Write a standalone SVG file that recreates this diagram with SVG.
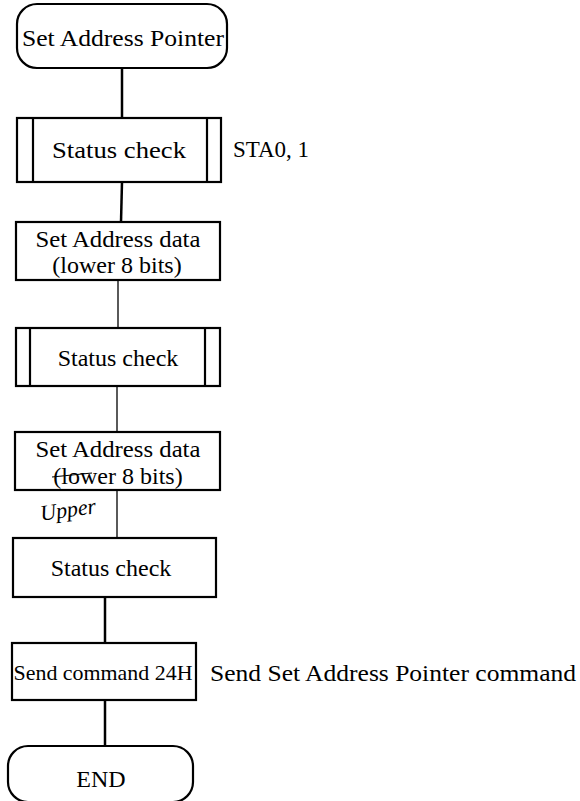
<svg xmlns="http://www.w3.org/2000/svg" width="580" height="801" viewBox="0 0 580 801">
<style>
.b{fill:#fff;stroke:#000;stroke-width:2.2}
.t{font-family:"Liberation Serif","Times New Roman",serif;font-size:24px;fill:#000}
.c{text-anchor:middle}
.l{stroke:#000;fill:none}
</style>
<rect width="580" height="801" fill="#fff"/>
<g id="connectors">
<line class="l" x1="122" y1="68" x2="122" y2="118" stroke-width="2.5"/>
<line class="l" x1="122" y1="182" x2="121" y2="222" stroke-width="2.5"/>
<line class="l" x1="118" y1="280" x2="118" y2="328" stroke-width="1.3"/>
<line class="l" x1="117" y1="386" x2="117" y2="432" stroke-width="1.3"/>
<line class="l" x1="117" y1="490" x2="117" y2="538" stroke-width="1.3"/>
<line class="l" x1="105" y1="597" x2="105" y2="643" stroke-width="2.5"/>
<line class="l" x1="105" y1="700" x2="105" y2="746" stroke-width="2.5"/>
</g>
<g id="start">
<rect class="b" x="17" y="4" width="210" height="64" rx="20" ry="20"/>
<text class="t c" x="123" y="46" textLength="202" lengthAdjust="spacingAndGlyphs">Set Address Pointer</text>
</g>
<g id="status1">
<rect class="b" x="17" y="118" width="204" height="64"/>
<line class="l" x1="33" y1="118" x2="33" y2="182" stroke-width="2.2"/>
<line class="l" x1="207" y1="118" x2="207" y2="182" stroke-width="2.2"/>
<text class="t c" x="119" y="158" textLength="134" lengthAdjust="spacingAndGlyphs">Status check</text>
<text class="t" x="233" y="157" textLength="76" lengthAdjust="spacingAndGlyphs">STA0, 1</text>
</g>
<g id="setaddr1">
<rect class="b" x="16" y="222" width="204" height="58"/>
<text class="t c" x="118" y="247" textLength="165" lengthAdjust="spacingAndGlyphs">Set Address data</text>
<text class="t c" x="117" y="273">(lower 8 bits)</text>
</g>
<g id="status2">
<rect class="b" x="16" y="328" width="204" height="58"/>
<line class="l" x1="30" y1="328" x2="30" y2="386" stroke-width="2.2"/>
<line class="l" x1="205" y1="328" x2="205" y2="386" stroke-width="2.2"/>
<text class="t c" x="118" y="366">Status check</text>
</g>
<g id="setaddr2">
<rect class="b" x="15" y="432" width="205" height="58"/>
<text class="t c" x="118" y="457" textLength="165" lengthAdjust="spacingAndGlyphs">Set Address data</text>
<text class="t c" x="118" y="484">(lower 8 bits)</text>
<line class="l" x1="52" y1="477" x2="92" y2="473" stroke-width="1.2"/>
<text x="40" y="516" font-family="'Liberation Serif',serif" font-style="italic" font-size="22" transform="rotate(-8 75 510)" fill="#000">Upper</text>
</g>
<g id="status3">
<rect class="b" x="13" y="538" width="203" height="59"/>
<text class="t c" x="111" y="576">Status check</text>
</g>
<g id="send">
<rect class="b" x="12" y="643" width="184" height="57"/>
<text class="t c" x="103" y="680" font-size="22" style="font-size:22px" textLength="179" lengthAdjust="spacingAndGlyphs">Send command 24H</text>
<text class="t" x="210" y="681" textLength="366" lengthAdjust="spacingAndGlyphs">Send Set Address Pointer command</text>
</g>
<g id="end">
<rect class="b" x="8" y="746" width="185" height="56" rx="20" ry="20"/>
<text class="t c" x="101" y="787">END</text>
</g>
</svg>
